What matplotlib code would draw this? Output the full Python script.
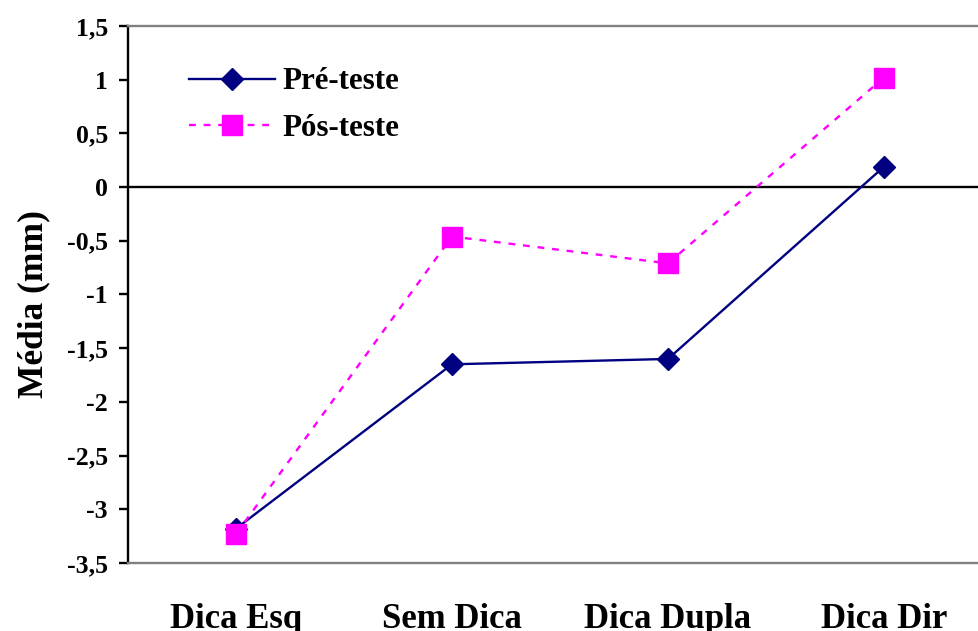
import matplotlib.pyplot as plt
from matplotlib.ticker import FuncFormatter

plt.rcParams['font.family'] = ['Liberation Serif', 'DejaVu Serif']
plt.rcParams['font.weight'] = 'bold'

conditions = ['Dica Esq', 'Sem Dica', 'Dica Dupla', 'Dica Dir']
pre_teste = [-3.18, -1.65, -1.60, 0.19]
pos_teste = [-3.23, -0.46, -0.71, 1.02]
y_ticks = [-3.5, -3.0, -2.5, -2.0, -1.5, -1.0, -0.5, 0.0, 0.5, 1.0, 1.5]

fig = plt.figure(figsize=(9.79, 6.31), dpi=100)
ax = fig.add_axes([128 / 979, 1 - 563 / 631, (992 - 128) / 979, (563 - 26) / 631])

x = range(len(conditions))
ax.plot(x, pre_teste, color='#000080', linewidth=1.7, marker='D',
        markersize=11.5, label='Pré-teste', clip_on=False, zorder=3)
ax.plot(x, pos_teste, color='#FF00FF', linewidth=1.7, dashes=(2.9, 3.3),
        marker='s', markersize=14, label='Pós-teste', clip_on=False, zorder=4)

ax.axhline(0, color='black', linewidth=1.7, zorder=2)

ax.set_xlim(-0.5, 3.5)
ax.set_ylim(-3.5, 1.5)
ax.set_yticks(y_ticks)
ax.yaxis.set_major_formatter(
    FuncFormatter(lambda v, _: ('%g' % v).replace('.', ',')))
ax.set_xticks(list(x))
ax.set_xticklabels(conditions, fontsize=25, fontweight='bold')
ax.tick_params(axis='x', length=0, pad=28.5)
ax.tick_params(axis='y', direction='out', length=6.5, width=1.7,
               labelsize=18.5, pad=8)

for side in ('top', 'bottom'):
    ax.spines[side].set_color('#808080')
    ax.spines[side].set_linewidth(1.7)
ax.spines['right'].set_visible(False)
ax.spines['left'].set_linewidth(1.7)

ax.set_ylabel('Média (mm)', fontsize=25.5, fontweight='bold', labelpad=12)
ax.yaxis.label.set_y(0.483)

ax.legend(loc='upper left', bbox_to_anchor=(0.056, 0.946), frameon=False,
          fontsize=22.3, handlelength=2.77, handletextpad=0.26,
          labelspacing=0.56, borderaxespad=0)

fig.savefig('out.png', dpi=100)
